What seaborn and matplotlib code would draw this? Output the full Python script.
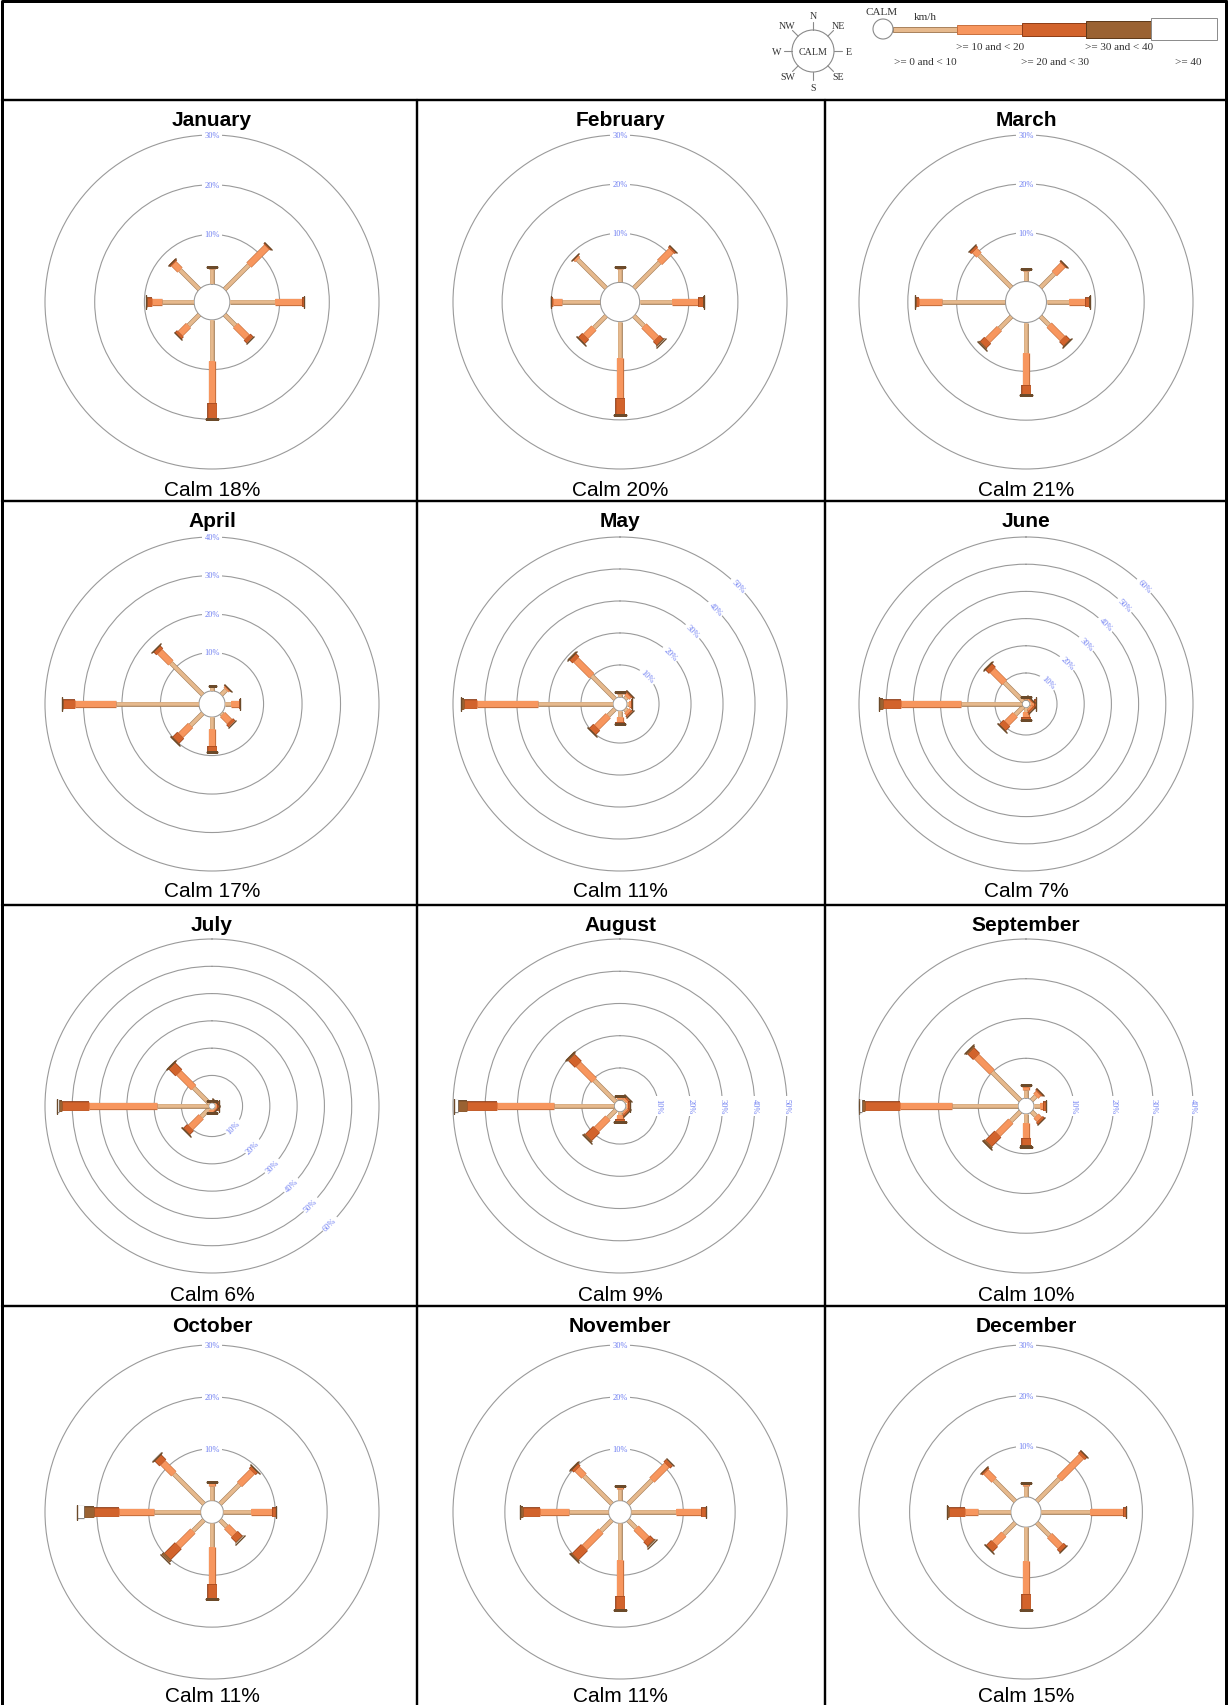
import numpy as np
import matplotlib
matplotlib.use("Agg")
import matplotlib.pyplot as plt
import matplotlib.patheffects as pe
from matplotlib.markers import MarkerStyle
from matplotlib.transforms import Affine2D
from matplotlib.patches import Circle
import seaborn as sns

# ---------------------------------------------------------------- data
months = ["January", "February", "March", "April", "May", "June",
          "July", "August", "September", "October", "November", "December"]
directions = ["N", "NE", "E", "SE", "S", "SW", "W", "NW"]
bearings = [0, 45, 90, 135, 180, 225, 270, 315]

calm = [18, 20, 21, 17, 11, 7, 6, 9, 10, 11, 11, 15]
ring_max = [30, 30, 30, 40, 50, 60, 60, 50, 40, 30, 30, 30]
ring_label_bearing = [0, 0, 0, 0, 45, 45, 135, 90, 90, 0, 0, 0]

speed_classes = [">= 0 and < 10", ">= 10 and < 20", ">= 20 and < 30",
                 ">= 30 and < 40", ">= 40"]

# frequency (%) per month (rows) and direction (N, NE, E, SE, S, SW, W, NW)
speed_0_10 = [
    [3.0, 6.9, 9.0, 3.1, 8.3, 3.1, 6.5, 5.5],
    [2.8, 7.4, 6.5, 2.9, 7.5, 3.5, 7.8, 8.2],
    [2.2, 4.0, 4.7, 2.5, 6.3, 3.5, 13.0, 9.4],
    [1.2, 1.8, 1.5, 0.5, 3.1, 4.5, 21.6, 11.7],
    [0.9, 0.8, 0.6, 0.8, 1.8, 3.0, 23.5, 10.3],
    [0.4, 0.3, 0.6, 0.4, 1.5, 4.2, 22.4, 9.8],
    [0.3, 0.3, 0.4, 0.3, 0.4, 4.4, 18.9, 8.3],
    [0.4, 0.4, 0.3, 0.3, 1.0, 3.5, 18.7, 9.5],
    [2.0, 1.5, 1.4, 1.6, 2.4, 3.4, 16.6, 10.1],
    [2.8, 5.3, 5.3, 1.8, 4.5, 3.0, 9.0, 8.2],
    [2.2, 6.5, 8.6, 2.2, 7.0, 3.0, 7.6, 7.6],
    [2.1, 6.3, 9.6, 3.6, 6.7, 3.2, 6.5, 5.9],
]
speed_10_20 = [
    [0.3, 5.1, 5.5, 3.3, 8.4, 2.3, 2.0, 1.8],
    [0.3, 3.4, 5.3, 3.6, 8.1, 2.4, 1.9, 0.5],
    [0.3, 2.5, 3.2, 3.9, 6.4, 3.4, 4.8, 1.3],
    [0.2, 0.4, 2.0, 2.6, 4.3, 3.6, 10.6, 4.1],
    [0.5, 0.9, 0.6, 0.9, 1.6, 5.1, 19.1, 7.0],
    [0.5, 0.4, 0.9, 0.7, 2.0, 4.4, 22.2, 6.3],
    [0.3, 0.3, 0.4, 0.4, 0.5, 5.6, 24.8, 7.7],
    [0.5, 0.6, 0.5, 0.5, 1.2, 5.0, 17.5, 7.0],
    [0.9, 1.0, 1.0, 1.2, 3.7, 4.6, 13.0, 5.5],
    [0.5, 3.5, 4.1, 2.1, 7.2, 4.0, 6.7, 3.0],
    [0.4, 4.1, 4.9, 2.9, 7.0, 4.5, 5.7, 1.9],
    [0.4, 6.2, 6.6, 3.0, 6.6, 2.6, 2.6, 2.3],
]
speed_20_30 = [
    [0.15, 0.4, 0.5, 0.8, 3.1, 0.7, 1.0, 0.5],
    [0.1, 0.5, 1.0, 1.0, 3.3, 1.2, 0.3, 0.2],
    [0.1, 0.4, 0.9, 1.2, 1.9, 1.3, 0.6, 0.6],
    [0.0, 0.2, 0.4, 0.8, 1.6, 1.8, 3.0, 1.0],
    [0.3, 0.6, 0.4, 0.5, 0.8, 1.9, 3.9, 1.6],
    [0.4, 0.3, 0.7, 0.6, 1.0, 2.2, 6.5, 2.0],
    [0.2, 0.2, 0.4, 0.3, 0.3, 1.9, 10.0, 3.5],
    [0.4, 0.5, 0.5, 0.5, 0.8, 3.5, 9.6, 3.0],
    [0.5, 0.6, 0.6, 0.7, 1.8, 3.3, 8.8, 2.0],
    [0.2, 0.6, 0.8, 1.3, 2.7, 2.9, 4.8, 1.3],
    [0.2, 0.7, 0.9, 1.1, 2.5, 2.5, 3.2, 0.6],
    [0.2, 0.8, 0.6, 0.8, 3.0, 1.4, 3.2, 0.5],
]
speed_30_40 = [
    [0, 0, 0, 0, 0.2, 0, 0.2, 0],
    [0, 0, 0.2, 0.2, 0.2, 0.2, 0, 0],
    [0, 0, 0.2, 0.2, 0.2, 0.2, 0.1, 0],
    [0, 0, 0, 0, 0, 0.4, 0.3, 0.2],
    [0, 0, 0, 0, 0, 0.3, 1.0, 0.3],
    [0, 0, 0.2, 0, 0, 0.4, 1.5, 0.4],
    [0, 0, 0, 0, 0, 0.3, 1.2, 0.6],
    [0, 0, 0, 0, 0.2, 0.5, 2.8, 0.7],
    [0, 0, 0, 0, 0.3, 0.7, 0.9, 0.6],
    [0, 0.1, 0, 0.1, 0.2, 0.6, 2.0, 0.3],
    [0, 0, 0, 0.2, 0.2, 0.3, 0.6, 0.3],
    [0, 0, 0, 0, 0.1, 0.2, 0.4, 0],
]
speed_40_plus = [
    [0, 0, 0, 0, 0, 0, 0, 0],
    [0, 0, 0, 0, 0, 0, 0, 0],
    [0, 0, 0, 0, 0, 0, 0, 0],
    [0, 0, 0, 0, 0, 0, 0, 0],
    [0, 0, 0, 0, 0, 0, 0, 0],
    [0, 0, 0, 0, 0, 0, 0, 0],
    [0, 0, 0, 0, 0, 0, 0.7, 0],
    [0, 0, 0, 0, 0, 0, 1.0, 0],
    [0, 0, 0, 0, 0, 0, 0.6, 0],
    [0, 0, 0, 0, 0, 0.1, 1.3, 0.1],
    [0, 0, 0, 0, 0, 0, 0, 0],
    [0, 0, 0, 0, 0, 0, 0, 0],
]

# ---------------------------------------------------------------- style
sns.set_theme(style="white")
plt.rcParams["font.family"] = ["Liberation Sans", "DejaVu Sans"]

class_colors = ["#e6b98d", "#f7965e", "#d2632c", "#9a6232", "#ffffff"]
class_edges = ["#a8825c", "#c8703e", "#8e3c16", "#5c3818", "#8a8a8a"]
class_width_px = [3.5, 6.0, 8.5, 10.5, 12.0]
ring_color = "#9a9a9a"
label_blue = "#6f7ff2"
text_dark = "#333333"
serif = ["Liberation Serif", "DejaVu Serif"]

W, H, DPI = 1229, 1706, 100
PX = 72.0 / DPI  # points per pixel

fig = plt.figure(figsize=(W / DPI, H / DPI), dpi=DPI)
fig.patch.set_facecolor("white")

# page-level axes in pixel coordinates for the table frame and the legend
bg = fig.add_axes([0, 0, 1, 1])
bg.set_xlim(0, W)
bg.set_ylim(H, 0)
bg.axis("off")

col_lines = [417, 825]
row_lines = [101, 502, 906, 1307]
bg.plot([2, W - 2], [2, 2], color="black", lw=3 * PX, solid_capstyle="butt")
bg.plot([2, 2], [2, H], color="black", lw=3 * PX)
bg.plot([W - 3, W - 3], [2, H], color="black", lw=3 * PX)
for y in row_lines:
    bg.plot([2, W - 3], [y, y], color="black", lw=2.4 * PX)
for x in col_lines:
    bg.plot([x, x], [row_lines[0], H], color="black", lw=2.4 * PX)

# --- legend: compass icon
cxl, cyl, rl = 813, 52, 21
bg.add_patch(Circle((cxl, cyl), rl, facecolor="white", edgecolor="#8a8a8a", lw=0.8))
bg.text(cxl, cyl, "CALM", ha="center", va="center", fontsize=7.2,
        family=serif, color=text_dark)
for b, name in zip(bearings, directions):
    s, c = np.sin(np.deg2rad(b)), -np.cos(np.deg2rad(b))
    bg.plot([cxl + rl * s, cxl + (rl + 8) * s], [cyl + rl * c, cyl + (rl + 8) * c],
            color="#8a8a8a", lw=0.8)
    bg.text(cxl + 36 * s, cyl + 36 * c, name, ha="center", va="center",
            fontsize=7.2, family=serif, color=text_dark)

# --- legend: speed classes
bg.add_patch(Circle((883, 30), 10, facecolor="white", edgecolor="#8a8a8a", lw=0.8, zorder=3))
bg.text(882, 12, "CALM", ha="center", va="center", fontsize=8, family=serif, color=text_dark)
bg.text(925, 17, "km/h", ha="center", va="center", fontsize=8, family=serif, color=text_dark)
legend_left = [893, 957, 1022, 1086, 1151]
legend_len = [64, 65, 64, 65, 66]
legend_height = [5, 9, 13, 17, 22]
label_pos = [(925, 62), (990, 47), (1055, 62), (1119, 47), (1188, 62)]
bg.barh([30] * 5, legend_len, left=legend_left, height=legend_height,
        color=class_colors, edgecolor=class_edges, linewidth=0.7)
for lab, (lx, ly) in zip(speed_classes, label_pos):
    bg.text(lx, ly, lab, ha="center", va="center", fontsize=8, family=serif, color=text_dark)

# ---------------------------------------------------------------- roses
col_centers = [212, 620, 1026]
row_centers = [303, 705, 1107, 1513]
row_tops = [101, 502, 906, 1307]
R = 167
classes = [speed_0_10, speed_10_20, speed_20_30, speed_30_40, speed_40_plus]

for i, month in enumerate(months):
    rr, cc = divmod(i, 3)
    cx, cy = col_centers[cc], row_centers[rr]
    ax = fig.add_axes([(cx - R) / W, 1 - (cy + R) / H, 2 * R / W, 2 * R / H],
                      projection="polar")
    ax.set_theta_zero_location("N")
    ax.set_theta_direction(-1)
    ax.set_facecolor("white")
    rmax = ring_max[i]
    ax.set_ylim(0, rmax)
    ax.set_rorigin(-calm[i] / 5.0)
    ax.set_xticks([])
    ax.set_yticks(np.arange(10, rmax, 10))
    ax.set_yticklabels([])
    ax.grid(True, color=ring_color, lw=0.8, ls="-")
    for key in ("polar", "inner"):
        ax.spines[key].set_color(ring_color)
        ax.spines[key].set_linewidth(0.8)

    # ring labels
    lb = ring_label_bearing[i]
    rot = -lb if lb <= 90 else 180 - lb
    for v in range(10, rmax + 1, 10):
        ax.text(np.deg2rad(lb), v, f"{v}%", rotation=rot, rotation_mode="anchor",
                ha="center", va="center", fontsize=6.0, family=serif, color=label_blue,
                bbox=dict(boxstyle="square,pad=0.25", fc="white", ec="none"), zorder=4)

    # stacked rays, one per direction
    for j, b in enumerate(bearings):
        th = np.deg2rad(b)
        start = 0.0
        last = None
        for k, cls in enumerate(classes):
            v = cls[i][j]
            if v <= 0:
                continue
            w = class_width_px[k] * PX
            ax.plot([th, th], [start, start + v], color=class_colors[k], lw=w,
                    solid_capstyle="butt", zorder=5 + k,
                    path_effects=[pe.Stroke(linewidth=w + 0.9, foreground=class_edges[k]),
                                  pe.Normal()])
            start += v
            last = k
        if last is not None:
            cap = MarkerStyle("|", transform=Affine2D().rotate_deg(90 - b))
            ax.plot([th], [start], marker=cap, ms=(class_width_px[last] + 3) * PX,
                    mew=1.0, mec="#6b4a2a", ls="none", zorder=11)

    # month title and calm share
    fig.text(cx / W, 1 - (row_tops[rr] + 20) / H, month, ha="center", va="center",
             fontsize=15, weight="bold", color="black")
    fig.text(cx / W, 1 - (row_tops[rr] + 390) / H, f"Calm {calm[i]}%", ha="center",
             va="center", fontsize=15, color="black")

fig.savefig("out.png", dpi=DPI, facecolor="white")
